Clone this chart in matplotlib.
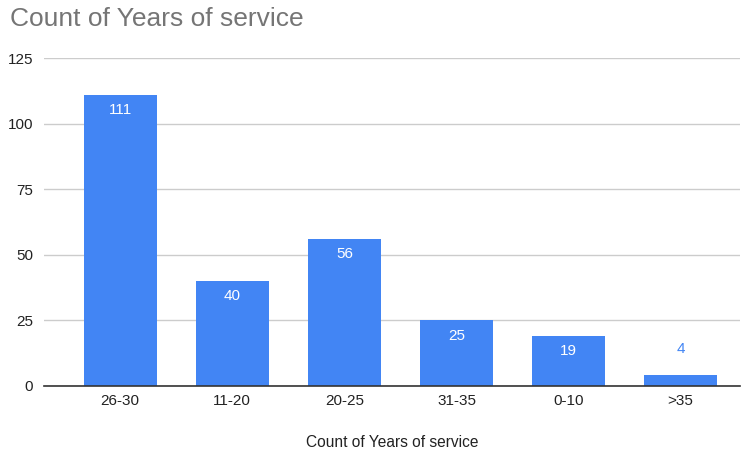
import matplotlib
matplotlib.use("Agg")
import matplotlib.pyplot as plt

plt.rcParams['font.family'] = ['Liberation Sans', 'DejaVu Sans']

categories = ["26-30", "11-20", "20-25", "31-35", "0-10", ">35"]
values = [111, 40, 56, 25, 19, 4]
yticks = [0, 25, 50, 75, 100, 125]

BLUE = "#4285F4"

fig = plt.figure(figsize=(7.46, 4.54), dpi=100)
ax = fig.add_axes([0.059, 0.150, 0.933, 0.722])

x = list(range(len(categories)))
bars = ax.bar(x, values, width=0.65, color=BLUE, zorder=3)

ax.set_ylim(0, 125)
ax.set_xlim(-0.68, 5.53)
ax.set_yticks(yticks)
ax.set_yticklabels([str(t) for t in yticks], fontsize=11, color="#222222")
ax.set_xticks(x)
ax.set_xticklabels(categories, fontsize=11, color="#222222")
ax.tick_params(axis="both", length=0, pad=6)
ax.tick_params(axis="y", pad=8)
ax.grid(axis="y", color="#cccccc", linewidth=1, zorder=0)
for s in ["top", "right", "left"]:
    ax.spines[s].set_visible(False)
ax.spines["bottom"].set_color("#333333")
ax.spines["bottom"].set_linewidth(1.2)
ax.spines["bottom"].set_zorder(4)

for xi, v in zip(x, values):
    if v >= 10:
        ax.annotate(str(v), (xi, v), xytext=(0, -6), textcoords="offset points",
                    ha="center", va="top", color="white", fontsize=11, zorder=5)
    else:
        ax.annotate(str(v), (xi, v), xytext=(0, 14), textcoords="offset points",
                    ha="center", va="bottom", color=BLUE, fontsize=11, zorder=5)

ax.set_xlabel("Count of Years of service", fontsize=11.2, color="#222222", labelpad=19)
fig.text(10 / 746, 1 - 19 / 454, "Count of Years of service", fontsize=19,
         color="#757575", ha="left", va="center")

fig.savefig("out.png", dpi=100)
